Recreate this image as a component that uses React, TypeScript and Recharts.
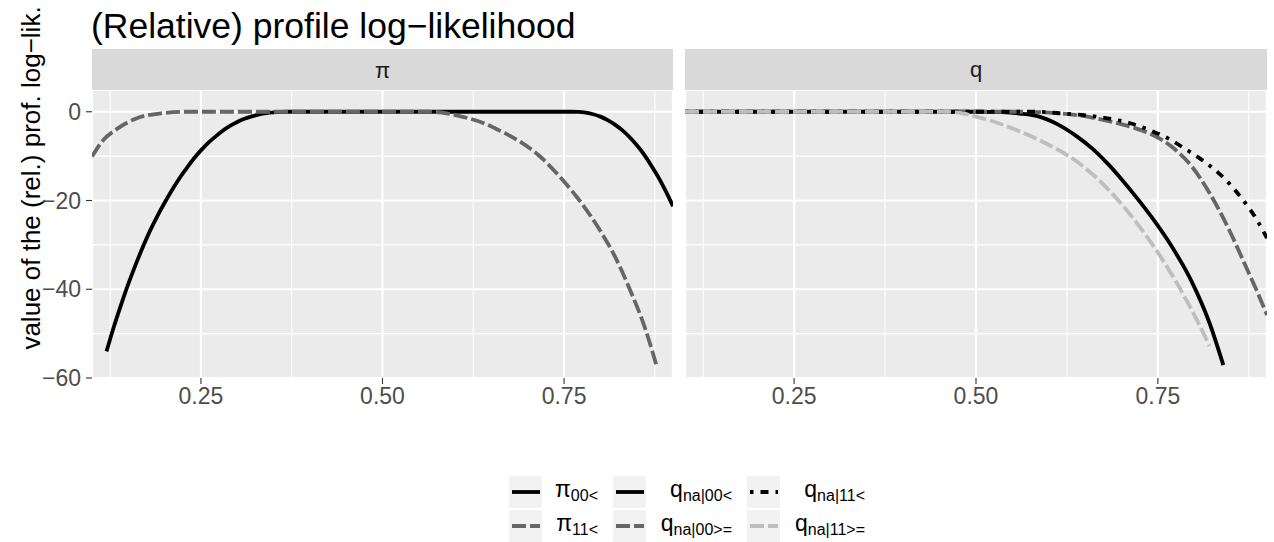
import { LineChart, Line, XAxis, YAxis, CartesianGrid } from 'recharts'

const FONT = '"Liberation Sans", Arial, Helvetica, sans-serif'

// axis ticks
const xTicks = [0.25, 0.5, 0.75]
const xMinor = [0.125, 0.375, 0.625, 0.875]
const yTicks = [-60, -40, -20, 0]
const yMinor = [-50, -30, -10]
const xDomain = [0.1, 0.9]
const yDomain = [-60, 4.9]

// facet "pi"
const pi00X = [0.12, 0.13, 0.14, 0.15, 0.16, 0.17, 0.18, 0.19, 0.2, 0.21, 0.22, 0.23, 0.24, 0.25, 0.26, 0.27, 0.28, 0.29, 0.3, 0.31, 0.32, 0.33, 0.34, 0.35, 0.36, 0.37, 0.5, 0.6, 0.7, 0.76, 0.77, 0.78, 0.79, 0.8, 0.81, 0.82, 0.83, 0.84, 0.85, 0.86, 0.87, 0.88, 0.89, 0.9]
const pi00Y = [-54, -48.5, -43.5, -38.8, -34.5, -30.5, -26.8, -23.5, -20.5, -17.7, -15.1, -12.8, -10.6, -8.7, -7, -5.6, -4.3, -3.2, -2.3, -1.6, -1.05, -0.6, -0.3, -0.12, -0.03, 0, 0, 0, 0, 0, -0.04, -0.22, -0.56, -1.1, -1.9, -2.9, -4.15, -5.7, -7.5, -9.6, -12.1, -14.8, -17.9, -21.3]
const pi11X = [0.1, 0.115, 0.135, 0.161, 0.193, 0.23, 0.3, 0.4, 0.5, 0.565, 0.59, 0.609, 0.635, 0.662, 0.69, 0.715, 0.746, 0.767, 0.799, 0.82, 0.841, 0.862, 0.878]
const pi11Y = [-10.1, -6.5, -3.8, -1.5, -0.4, 0, 0, 0, 0, 0, -0.4, -1.1, -2.3, -4.3, -6.8, -9.8, -15, -19.1, -26.6, -32.6, -40.2, -49, -57.6]

// facet "q"
const q00ltX = [0.1, 0.3, 0.5, 0.535, 0.56, 0.587, 0.613, 0.639, 0.66, 0.681, 0.7, 0.723, 0.743, 0.77, 0.796, 0.821, 0.84]
const q00ltY = [0, 0, 0, -0.1, -0.4, -1.1, -2.9, -5.6, -8.3, -11.7, -15.2, -19.8, -24.1, -30.6, -38.1, -47.6, -57.1]
const q00geX = [0.1, 0.3, 0.5, 0.56, 0.6, 0.64, 0.665, 0.69, 0.717, 0.744, 0.77, 0.796, 0.821, 0.847, 0.868, 0.889, 0.9]
const q00geY = [0, 0, 0, 0, -0.2, -0.8, -1.5, -2.4, -3.6, -5.3, -8, -12.2, -18.3, -26.3, -33.8, -41.5, -45.8]
const q11ltX = [0.1, 0.3, 0.5, 0.58, 0.62, 0.665, 0.712, 0.738, 0.764, 0.785, 0.811, 0.832, 0.85, 0.868, 0.884, 0.9]
const q11ltY = [0, 0, 0, 0, -0.4, -1.1, -2.6, -4.1, -6, -8.1, -10.9, -13.6, -16.5, -20.1, -23.8, -28.5]
const q11geX = [0.1, 0.3, 0.462, 0.485, 0.509, 0.535, 0.561, 0.587, 0.613, 0.64, 0.665, 0.692, 0.728, 0.759, 0.785, 0.806, 0.821]
const q11geY = [0, 0, 0, -0.5, -1.5, -2.8, -4.5, -6.4, -8.6, -11.4, -14.8, -19.3, -26.6, -34, -41.2, -47.7, -52.8]

const toPoints = (xs: number[], ys: number[]) => xs.map((x, i) => ({ x, y: ys[i] }))

type Series = {
  key: string
  main: string
  sub: string
  color: string
  dash?: string
  data: { x: number; y: number }[]
}

const piSeries: Series[] = [
  { key: 'pi00', main: 'π', sub: '00<', color: '#000000', data: toPoints(pi00X, pi00Y) },
  { key: 'pi11', main: 'π', sub: '11<', color: '#666666', dash: '14 4', data: toPoints(pi11X, pi11Y) },
]

const qSeries: Series[] = [
  { key: 'q00lt', main: 'q', sub: 'na|00<', color: '#000000', data: toPoints(q00ltX, q00ltY) },
  { key: 'q00ge', main: 'q', sub: 'na|00>=', color: '#666666', dash: '14 4', data: toPoints(q00geX, q00geY) },
  { key: 'q11lt', main: 'q', sub: 'na|11<', color: '#000000', dash: '3.5 7 8 7', data: toPoints(q11ltX, q11ltY) },
  { key: 'q11ge', main: 'q', sub: 'na|11>=', color: '#BEBEBE', dash: '14 4', data: toPoints(q11geX, q11geY) },
]

// legend columns (top row, bottom row)
const legendCols = [
  [piSeries[0], piSeries[1]],
  [qSeries[0], qSeries[1]],
  [qSeries[2], qSeries[3]],
]

const fmtY = (v: number) => (v < 0 ? `\u2212${-v}` : `${v}`)
const fmtX = (v: number) => v.toFixed(2)
const LW = 3.8
const TICK_FONT = { fill: '#4D4D4D', fontSize: 23, fontFamily: FONT }

const Panel = ({ series, showY, width }: { series: Series[]; showY: boolean; width: number }) => (
  <LineChart width={width} height={328} margin={{ top: 0, right: 2, bottom: 0, left: 0 }}>
    <XAxis xAxisId="minor" type="number" dataKey="x" domain={xDomain} ticks={xMinor} allowDataOverflow hide />
    <YAxis yAxisId="minor" type="number" domain={yDomain} ticks={yMinor} allowDataOverflow hide />
    <CartesianGrid xAxisId="minor" yAxisId="minor" fill="#EBEBEB" fillOpacity={1} stroke="#FFFFFF" strokeWidth={1.1} />
    <CartesianGrid stroke="#FFFFFF" strokeWidth={2.2} />
    <XAxis
      type="number"
      dataKey="x"
      domain={xDomain}
      ticks={xTicks}
      allowDataOverflow
      tickFormatter={fmtX}
      axisLine={false}
      tickLine={{ stroke: '#333333', strokeWidth: 1.1 }}
      tickSize={6}
      tickMargin={4}
      height={40}
      tick={TICK_FONT}
    />
    <YAxis
      type="number"
      domain={yDomain}
      ticks={yTicks}
      allowDataOverflow
      tickFormatter={fmtY}
      axisLine={false}
      tickLine={{ stroke: '#333333', strokeWidth: 1.1 }}
      tickSize={6}
      tickMargin={5}
      width={showY ? 92 : 0}
      hide={!showY}
      tick={TICK_FONT}
    />
    {series.map(s => (
      <Line
        key={s.key}
        data={s.data}
        dataKey="y"
        type="monotone"
        stroke={s.color}
        strokeWidth={LW}
        strokeDasharray={s.dash}
        strokeLinecap="butt"
        dot={false}
        activeDot={false}
        isAnimationActive={false}
      />
    ))}
  </LineChart>
)

export default function App() {
  return (
    <div style={{ position: 'absolute', left: 0, top: 0, width: 1274, height: 542, background: '#FFFFFF', fontFamily: FONT }}>
      <svg width={1274} height={542} style={{ position: 'absolute', left: 0, top: 0 }}>
        <text x={91} y={38} fontSize={35.5} fill="#000000" fontFamily={FONT}>
          (Relative) profile log{'\u2212'}likelihood
        </text>
        <text transform="translate(40,178) rotate(-90)" textAnchor="middle" fontSize={26} fill="#000000" fontFamily={FONT}>
          value of the (rel.) prof. log{'\u2212'}lik.
        </text>
        <rect x={92} y={49} width={581} height={41} fill="#D9D9D9" />
        <text x={382.5} y={70} textAnchor="middle" dominantBaseline="central" fontSize={22} fill="#1A1A1A" fontFamily={FONT}>π</text>
        <rect x={685} y={49} width={582} height={41} fill="#D9D9D9" />
        <text x={976} y={69} textAnchor="middle" dominantBaseline="central" fontSize={22} fill="#1A1A1A" fontFamily={FONT}>q</text>

        {legendCols.map((col, ci) => {
          const keyX = [509, 613, 747][ci]
          const labelRight = [598, 732, 865][ci]
          return col.map((s, ri) => {
            const top = ri === 0 ? 476 : 510
            const cy = top + 16
            return (
              <g key={s.key}>
                <rect x={keyX} y={top} width={33} height={32} fill="#F2F2F2" />
                <line x1={keyX + 3} x2={keyX + 31} y1={cy} y2={cy} stroke={s.color} strokeWidth={LW} strokeDasharray={s.dash} />
                <text x={labelRight} y={cy + 5} textAnchor="end" fill="#000000" fontFamily={FONT}>
                  <tspan fontSize={23}>{s.main}</tspan>
                  <tspan fontSize={16} dy={4}>{s.sub}</tspan>
                </text>
              </g>
            )
          })
        })}
      </svg>
      <div style={{ position: 'absolute', left: 0, top: 90 }}>
        <Panel series={piSeries} showY width={675} />
      </div>
      <div style={{ position: 'absolute', left: 685, top: 90 }}>
        <Panel series={qSeries} showY={false} width={584} />
      </div>
    </div>
  )
}
